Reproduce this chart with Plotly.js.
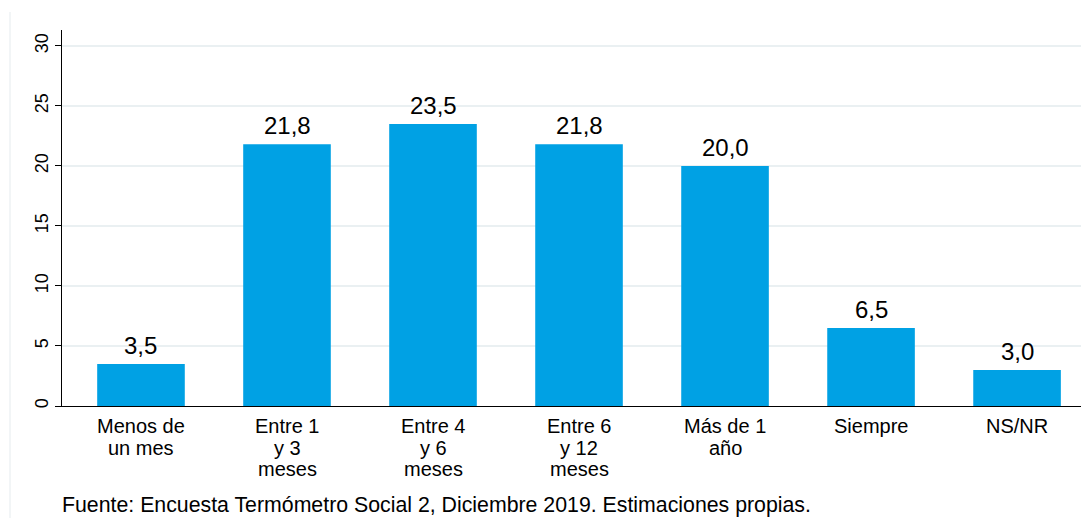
<!DOCTYPE html>
<html>
<head>
<meta charset="utf-8">
<script src="https://cdn.plot.ly/plotly-3.0.1.min.js"></script>
<style>html,body{margin:0;padding:0;background:#fff;overflow:hidden;}</style>
</head>
<body>
<div id="chart" style="width:1081px;height:518px;"></div>
<script>
const categories = ["Menos de<br>un mes", "Entre 1<br>y 3<br>meses", "Entre 4<br>y 6<br>meses", "Entre 6<br>y 12<br>meses", "Más de 1<br>año", "Siempre", "NS/NR"];
const values = [3.5, 21.8, 23.5, 21.8, 20.0, 6.5, 3.0];
const yTicks = [0, 5, 10, 15, 20, 25, 30];
const footnote = "Fuente: Encuesta Termómetro Social 2, Diciembre 2019. Estimaciones propias.";

const xIdx = categories.map((c, i) => i);
const font = "Liberation Sans, Arial, sans-serif";

const trace = {
  type: "bar",
  x: xIdx,
  y: values,
  width: 0.6,
  marker: {color: "#00a1e4", line: {width: 0}},
  hoverinfo: "skip"
};

const annotations = values.map((v, i) => ({
  x: i, y: v, xref: "x", yref: "y",
  text: v.toFixed(1).replace(".", ","),
  showarrow: false, yanchor: "bottom", yshift: 3,
  font: {family: font, size: 24, color: "#000"}
}));
// category labels, one annotation per line for tighter line spacing
categories.forEach((c, i) => {
  c.split("<br>").forEach((line, k) => {
    annotations.push({
      x: i, y: 0, xref: "x", yref: "paper",
      text: line, showarrow: false, xanchor: "center", yanchor: "middle",
      yshift: -(20 + 21.5 * k),
      font: {family: font, size: 20, color: "#000"}
    });
  });
});
annotations.push({
  x: 0, y: 0, xref: "paper", yref: "paper", xanchor: "left", yanchor: "middle",
  yshift: -99, xshift: -2, text: footnote, showarrow: false,
  font: {family: font, size: 21.3, color: "#000"}
});

const layout = {
  width: 1081, height: 518,
  margin: {l: 62, r: 0, t: 30, b: 112},
  paper_bgcolor: "#fff", plot_bgcolor: "#fff",
  showlegend: false,
  bargap: 0.4,
  xaxis: {
    range: [-0.541, 6.438],
    tickmode: "array", tickvals: xIdx, ticktext: xIdx.map(() => ""),
    showline: true, linecolor: "#000", linewidth: 1,
    ticks: "", showgrid: false, zeroline: false,
    fixedrange: true
  },
  yaxis: {
    range: [0, 31.33],
    tickmode: "array", tickvals: yTicks, ticktext: yTicks.map(String),
    tickangle: -90,
    showline: true, linecolor: "#000", linewidth: 1,
    ticks: "outside", ticklen: 6, tickcolor: "#000",
    showgrid: true, gridcolor: "#eaf0f2", gridwidth: 1.5,
    zeroline: false,
    tickfont: {family: font, size: 18, color: "#000"},
    fixedrange: true
  },
  shapes: [{
    type: "line", xref: "paper", yref: "paper",
    x0: -0.051, x1: -0.051, y0: 1.048, y1: -0.3,
    line: {color: "#eef2f4", width: 1.5}
  }],
  annotations: annotations
};

Plotly.newPlot("chart", [trace], layout, {displayModeBar: false, staticPlot: true});
</script>
</body>
</html>
